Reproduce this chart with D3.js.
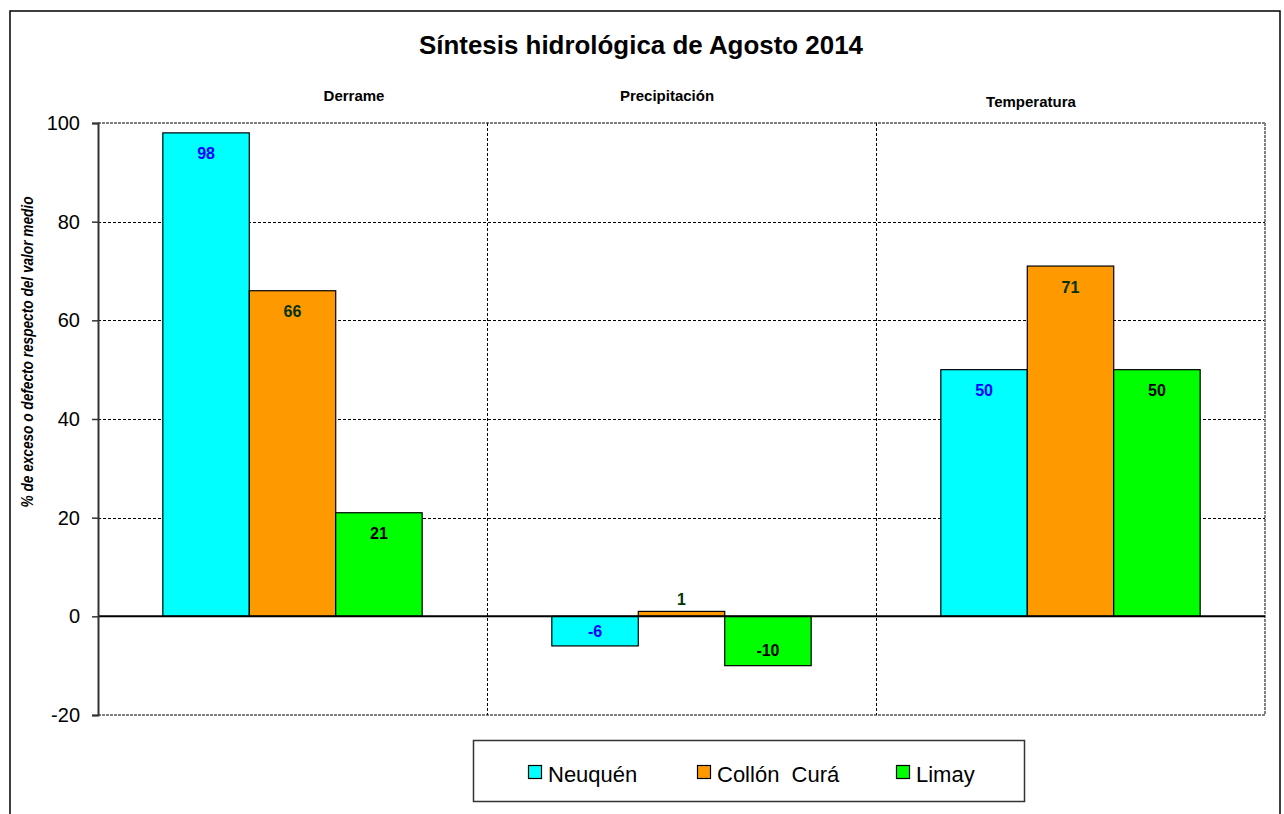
<!DOCTYPE html>
<html>
<head>
  <meta charset="utf-8">
  <title>Síntesis hidrológica de Agosto 2014</title>
  <script src="https://d3js.org/d3.v7.min.js"></script>
  <style>
    body { margin: 0; background: #fff; }
    text { font-family: Arial, "Liberation Sans", sans-serif; }
  </style>
</head>
<body>
<div id="chart"></div>
<script>
  // data
  var categories = ["Derrame", "Precipitación", "Temperatura"];
  var series = ["Neuquén", "Collón  Curá", "Limay"];
  var neuquen = [98, -6, 50];
  var collon = [66, 1, 71];
  var limay = [21, -10, 50];
  var yTicks = [-20, 0, 20, 40, 60, 80, 100];

  var values = [neuquen, collon, limay];
  var fills = ["#00FFFF", "#FF9900", "#00FF00"];
  var labelColors = ["#0000FF", "#003300", "#000000"];

  var W = 1284, H = 814;
  var plot = { left: 98, right: 1265, top: 123, bottom: 715 };

  var svg = d3.select("#chart").append("svg")
    .attr("width", W).attr("height", H);

  // outer chart border
  svg.append("rect")
    .attr("x", 10).attr("y", 11).attr("width", 1270).attr("height", 820)
    .attr("fill", "#fff").attr("stroke", "#000").attr("stroke-width", 1.5);

  svg.append("text")
    .attr("x", 641).attr("y", 54)
    .attr("text-anchor", "middle")
    .attr("font-size", 25).attr("font-weight", "bold")
    .attr("textLength", 444).attr("lengthAdjust", "spacingAndGlyphs")
    .text("Síntesis hidrológica de Agosto 2014");

  var x = d3.scaleBand().domain(categories).range([plot.left, plot.right]).padding(0);
  var xs = d3.scaleBand().domain(d3.range(series.length))
    .range([0, x.bandwidth()]).paddingInner(0).paddingOuter(0.75);
  var y = d3.scaleLinear().domain([-20, 100]).range([plot.bottom, plot.top]);

  // horizontal gridlines
  svg.append("g").selectAll("line")
    .data(yTicks.filter(function(d) { return d > -20 && d < 100 && d !== 0; }))
    .join("line")
    .attr("x1", plot.left).attr("x2", plot.right)
    .attr("y1", function(d) { return Math.round(y(d)) + 0.5; })
    .attr("y2", function(d) { return Math.round(y(d)) + 0.5; })
    .attr("stroke", "#000").attr("stroke-width", 1)
    .attr("stroke-dasharray", "3,2");

  // plot area border (top, right, bottom) gray dashed
  var border = svg.append("g").attr("stroke", "#808080").attr("stroke-width", 2)
    .attr("stroke-dasharray", "3,1").attr("fill", "none");
  border.append("line").attr("x1", plot.left).attr("x2", plot.right)
    .attr("y1", plot.top).attr("y2", plot.top);
  border.append("line").attr("x1", plot.left).attr("x2", plot.right)
    .attr("y1", plot.bottom).attr("y2", plot.bottom);
  border.append("line").attr("x1", plot.right).attr("x2", plot.right)
    .attr("y1", plot.top).attr("y2", plot.bottom);

  // vertical category dividers
  svg.append("g").selectAll("line")
    .data(categories.slice(1))
    .join("line")
    .attr("x1", function(d) { return Math.round(x(d)) + 0.5; })
    .attr("x2", function(d) { return Math.round(x(d)) + 0.5; })
    .attr("y1", plot.top).attr("y2", plot.bottom)
    .attr("stroke", "#000").attr("stroke-width", 1)
    .attr("stroke-dasharray", "3,2");

  // bars
  var groups = svg.append("g").selectAll("g")
    .data(categories)
    .join("g")
    .attr("transform", function(d) { return "translate(" + x(d) + ",0)"; });

  groups.selectAll("rect")
    .data(function(d, ci) {
      return values.map(function(v, si) { return { s: si, v: v[ci] }; });
    })
    .join("rect")
    .attr("x", function(d) { return xs(d.s); })
    .attr("width", xs.bandwidth())
    .attr("y", function(d) { return y(Math.max(0, d.v)); })
    .attr("height", function(d) { return Math.abs(y(d.v) - y(0)); })
    .attr("fill", function(d) { return fills[d.s]; })
    .attr("stroke", "#000").attr("stroke-width", 1.2);

  // value labels
  groups.selectAll("text")
    .data(function(d, ci) {
      return values.map(function(v, si) { return { s: si, v: v[ci] }; });
    })
    .join("text")
    .attr("x", function(d) { return xs(d.s) + xs.bandwidth() / 2; })
    .attr("y", function(d) {
      var top = y(d.v), zero = y(0);
      var cy;
      if (d.v > 3) cy = top + 21;
      else if (d.v >= 0) cy = top - 12;
      else cy = Math.max(top - 15, zero + 14);
      return cy;
    })
    .attr("dy", "0.35em")
    .attr("text-anchor", "middle")
    .attr("font-size", 16).attr("font-weight", "bold")
    .attr("fill", function(d) { return labelColors[d.s]; })
    .text(function(d) { return String(d.v); });

  // zero line
  svg.append("line")
    .attr("x1", plot.left).attr("x2", plot.right)
    .attr("y1", y(0)).attr("y2", y(0))
    .attr("stroke", "#000").attr("stroke-width", 2);

  // y axis
  var yAxis = svg.append("g")
    .attr("transform", "translate(" + plot.left + ",0)")
    .call(d3.axisLeft(y).tickValues(yTicks).tickSize(6).tickPadding(12)
      .tickFormat(function(d) { return String(d); }));
  yAxis.select(".domain").attr("stroke", "#333").attr("stroke-width", 2);
  yAxis.selectAll(".tick line").attr("stroke", "#333").attr("stroke-width", 1.5);
  yAxis.selectAll(".tick text")
    .attr("font-size", 20).attr("fill", "#000")
    .attr("font-family", "Arial, 'Liberation Sans', sans-serif");

  svg.append("text")
    .attr("transform", "translate(33,352) rotate(-90)")
    .attr("text-anchor", "middle")
    .attr("font-size", 17).attr("font-style", "italic").attr("font-weight", "bold")
    .attr("textLength", 311).attr("lengthAdjust", "spacingAndGlyphs")
    .text("% de exceso  o defecto respecto del valor medio");

  // category labels (text boxes sit a little off the band centres)
  var catLabelPos = [[354, 101], [667, 101], [1031, 107]];
  svg.append("g").selectAll("text")
    .data(categories)
    .join("text")
    .attr("x", function(d, i) { return catLabelPos[i][0]; })
    .attr("y", function(d, i) { return catLabelPos[i][1]; })
    .attr("text-anchor", "middle")
    .attr("font-size", 15).attr("font-weight", "bold")
    .text(function(d) { return d; });

  // legend
  var legend = svg.append("g");
  legend.append("rect")
    .attr("x", 473.5).attr("y", 740.5).attr("width", 551).attr("height", 61)
    .attr("fill", "#fff").attr("stroke", "#333").attr("stroke-width", 1.5);
  var legendX = [528, 697, 896];
  var items = legend.selectAll("g.item")
    .data(series)
    .join("g")
    .attr("class", "item")
    .attr("transform", function(d, i) { return "translate(" + legendX[i] + ",765)"; });
  items.append("rect")
    .attr("x", 0.5).attr("y", 0.5).attr("width", 13).attr("height", 13)
    .attr("fill", function(d, i) { return fills[i]; })
    .attr("stroke", "#000").attr("stroke-width", 1.2);
  items.append("text")
    .attr("x", 20).attr("y", 17)
    .attr("font-size", 22)
    .attr("xml:space", "preserve")
    .style("white-space", "pre")
    .text(function(d) { return d; });
</script>
</body>
</html>
